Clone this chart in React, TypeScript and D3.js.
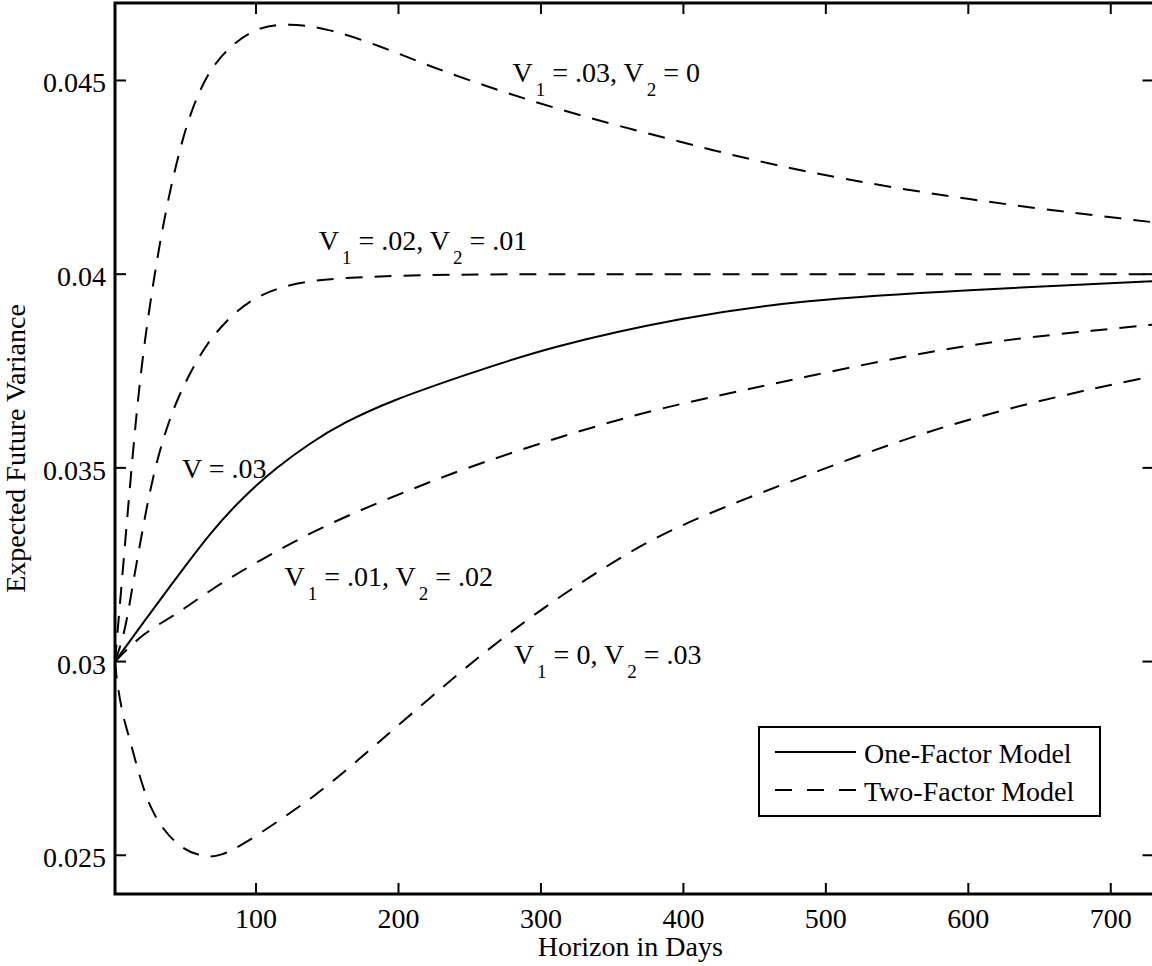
import React, { useEffect, useRef } from 'react';
import * as d3 from 'd3';

// horizon in days, expected future variance
const oneFactor: [number, number][] = [
  [1, 0.0300], [20.7, 0.0310], [44.5, 0.03218], [67.7, 0.03332], [90.9, 0.03425],
  [114.7, 0.03502], [137.9, 0.03564], [161, 0.03616], [196, 0.03675], [243, 0.03735],
  [306, 0.03813], [399.7, 0.03889], [482, 0.03933], [599, 0.03959], [727.5, 0.03982],
  [730, 0.03982],
];

// V1 = .03, V2 = 0
const twoFactorA: [number, number][] = [
  [1, 0.0300], [6.6, 0.0324], [13.6, 0.03546], [20.7, 0.03812], [34, 0.04122],
  [44.5, 0.04295], [53.6, 0.04416], [67.7, 0.04535], [86.6, 0.04604], [102.8, 0.04638],
  [121.7, 0.04648], [149.8, 0.04635], [184.9, 0.04592], [220, 0.0454], [243, 0.04509],
  [306, 0.0443], [399.7, 0.04339], [481.9, 0.04264], [599, 0.04191], [727.5, 0.04135],
  [730, 0.04134],
];

// V1 = .02, V2 = .01
const twoFactorB: [number, number][] = [
  [1, 0.0300], [8, 0.03074], [13.6, 0.03203], [20, 0.03332], [24.2, 0.03417],
  [30.5, 0.0352], [37.5, 0.03606], [44.5, 0.03675], [53.6, 0.03745], [65.6, 0.03822],
  [79.6, 0.03882], [95.8, 0.03933], [114.7, 0.03964], [137.9, 0.03985], [184.9, 0.03995],
  [243, 0.0400], [400, 0.0400], [730, 0.0400],
];

// V1 = .01, V2 = .02
const twoFactorC: [number, number][] = [
  [1, 0.0300], [20.7, 0.03074], [44.5, 0.03122], [67.7, 0.03185], [102.8, 0.03262],
  [137.9, 0.03332], [173, 0.03391], [208, 0.03443], [243, 0.03494], [306, 0.03572],
  [376.6, 0.03649], [446.8, 0.03704], [482, 0.03732], [552, 0.03786], [622, 0.0383],
  [692.4, 0.03856], [727.5, 0.03869], [730, 0.0387],
];

// V1 = 0, V2 = .03
const twoFactorD: [number, number][] = [
  [1, 0.0300], [2.4, 0.02945], [6.6, 0.02857], [11.5, 0.02798], [16.4, 0.02728],
  [20.7, 0.02676], [25.6, 0.02625], [34.7, 0.02565], [48.7, 0.02514], [62.8, 0.02496],
  [74.7, 0.02496], [93.7, 0.02534], [116.8, 0.02591], [140, 0.0265], [163.9, 0.0272],
  [236.2, 0.02952], [271.3, 0.03056], [306.4, 0.03151], [341.5, 0.03236], [376.6, 0.03314],
  [411.7, 0.03373], [446.8, 0.03425], [481.9, 0.03474], [552, 0.03572], [622, 0.03649],
  [692.4, 0.03709], [727.5, 0.03735], [730, 0.03736],
];

const xTicks = [100, 200, 300, 400, 500, 600, 700];
const yTicks = [0.025, 0.03, 0.035, 0.04, 0.045];
const yTickLabels = ['0.025', '0.03', '0.035', '0.04', '0.045'];

// annotation text: [main, sub1, mid, sub2, tail], anchor in data units
const annotations = [
  { parts: ['V', '1', ' = .03, V', '2', ' = 0'], at: [280, 0.04497] },
  { parts: ['V', '1', ' = .02, V', '2', ' = .01'], at: [144, 0.04062] },
  { parts: ['V = .03', '', '', '', ''], at: [48, 0.03475] },
  { parts: ['V', '1', ' = .01, V', '2', ' = .02'], at: [120, 0.03195] },
  { parts: ['V', '1', ' = 0, V', '2', ' = .03'], at: [281, 0.02995] },
];

const FONT = '"Liberation Serif", "Times New Roman", serif';

export default function App() {
  const ref = useRef<SVGSVGElement>(null);

  useEffect(() => {
    const svg = d3.select(ref.current);
    svg.selectAll('*').remove();

    const left = 115, right = 1153.5, top = 3, bottom = 894;
    const x = d3.scaleLinear().domain([1, 730]).range([left, right]);
    const y = d3.scaleLinear().domain([0.024, 0.047]).range([bottom, top]);

    svg.append('defs').append('clipPath').attr('id', 'plot')
      .append('rect').attr('x', left).attr('y', top).attr('width', right - left).attr('height', bottom - top);

    const line = d3.line<[number, number]>()
      .x(d => x(d[0]))
      .y(d => y(d[1]))
      .curve(d3.curveBasis);

    const curves = svg.append('g').attr('clip-path', 'url(#plot)');
    [twoFactorA, twoFactorB, twoFactorC, twoFactorD].forEach(data => {
      curves.append('path')
        .attr('d', line(data))
        .attr('fill', 'none')
        .attr('stroke', '#000')
        .attr('stroke-width', 2)
        .attr('stroke-dasharray', '17,12');
    });
    curves.append('path')
      .attr('d', line(oneFactor))
      .attr('fill', 'none')
      .attr('stroke', '#000')
      .attr('stroke-width', 2);

    // frame (right side falls just outside the picture)
    svg.append('path')
      .attr('d', `M${right + 4},${top}H${left}V${bottom}H${right + 4}`)
      .attr('fill', 'none')
      .attr('stroke', '#000')
      .attr('stroke-width', 3);

    const tickLen = 11;
    const ticks = svg.append('g').attr('stroke', '#000').attr('stroke-width', 2);
    xTicks.forEach(t => {
      ticks.append('line').attr('x1', x(t)).attr('x2', x(t)).attr('y1', bottom).attr('y2', bottom - tickLen);
      ticks.append('line').attr('x1', x(t)).attr('x2', x(t)).attr('y1', top).attr('y2', top + tickLen);
    });
    yTicks.forEach(t => {
      ticks.append('line').attr('x1', left).attr('x2', left + tickLen).attr('y1', y(t)).attr('y2', y(t));
      ticks.append('line').attr('x1', right).attr('x2', right - tickLen).attr('y1', y(t)).attr('y2', y(t));
    });

    const labels = svg.append('g').attr('font-family', FONT).attr('font-size', 28).attr('fill', '#000');
    xTicks.forEach(t => {
      labels.append('text').attr('x', x(t)).attr('y', 928).attr('text-anchor', 'middle').text(t);
    });
    yTicks.forEach((t, i) => {
      labels.append('text').attr('x', 106).attr('y', y(t) + 12).attr('text-anchor', 'end').text(yTickLabels[i]);
    });

    labels.append('text').attr('x', (left + right) / 2 - 4).attr('y', 956).attr('text-anchor', 'middle')
      .text('Horizon in Days');
    labels.append('text').attr('transform', `translate(25,${(top + bottom) / 2}) rotate(-90)`)
      .attr('text-anchor', 'middle').text('Expected Future Variance');

    // curve annotations with subscripts
    annotations.forEach(a => {
      const t = labels.append('text').attr('x', x(a.at[0])).attr('y', y(a.at[1]));
      const [m, s1, mid, s2, tail] = a.parts;
      t.append('tspan').text(m);
      if (s1) {
        t.append('tspan').attr('font-size', 19).attr('dx', 3).attr('dy', 14).text(s1);
        t.append('tspan').attr('dy', -14).text(mid);
        t.append('tspan').attr('font-size', 19).attr('dx', 3).attr('dy', 14).text(s2);
        t.append('tspan').attr('dy', -14).text(tail);
      }
    });

    // legend
    const lg = svg.append('g');
    lg.append('rect').attr('x', 759).attr('y', 727).attr('width', 341).attr('height', 89)
      .attr('fill', '#fff').attr('stroke', '#000').attr('stroke-width', 2);
    const items = [
      { label: 'One-Factor Model', dash: null, yy: 752 },
      { label: 'Two-Factor Model', dash: '17,15', yy: 790 },
    ];
    items.forEach(it => {
      lg.append('line').attr('x1', 775).attr('x2', 856).attr('y1', it.yy).attr('y2', it.yy)
        .attr('stroke', '#000').attr('stroke-width', 2)
        .attr('stroke-dasharray', it.dash);
      lg.append('text').attr('x', 864).attr('y', it.yy + 11)
        .attr('font-family', FONT).attr('font-size', 28).text(it.label);
    });
  }, []);

  return (
    <svg ref={ref} width={1152} height={966}
      style={{ position: 'absolute', left: 0, top: 0, background: '#fff' }} />
  );
}
